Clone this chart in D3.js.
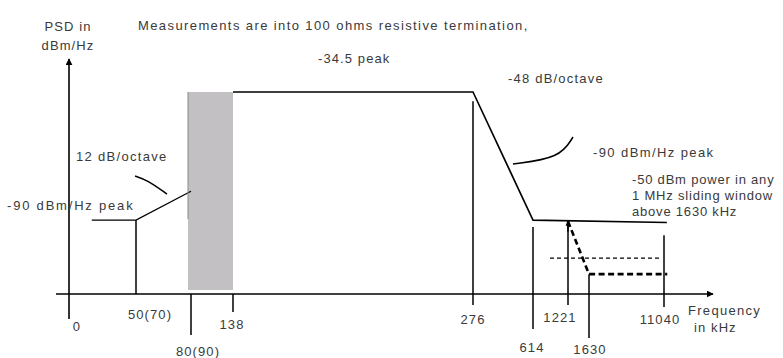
<!DOCTYPE html>
<html>
<head>
<meta charset="utf-8">
<script src="https://cdn.jsdelivr.net/npm/d3@7"></script>
<style>
  html, body { margin: 0; padding: 0; background: #fff; }
  svg { display: block; }
  text { font-family: "Liberation Sans", Arial, sans-serif; font-size: 13px; fill: #3a3a3a; letter-spacing: 1.1px; }
</style>
</head>
<body>
<svg id="chart" width="783" height="358"></svg>
<script>
// ---------------- DATA ----------------
const tickFreqs  = [0, 50, 80, 138, 276, 614, 1221, 1630, 11040];          // kHz
const tickLabels = ["0", "50(70)", "80(90)", "138", "276", "614", "1221", "1630", "11040"];
const tickTopPsd = [null, -90, -122, -122, -38.5, -93, -90.5, -113.4, -96.5]; // where each tick line starts (dBm/Hz)

const leftFreq = [17, 50, 80];            // -90 dBm/Hz peak, then 12 dB/octave rise
const leftPsd  = [-90, -90, -77.5];

const bandFreq = [80, 138];               // shaded region
const bandPsd  = -34.5;

const maskFreq = [138, 276, 614, 11400];  // -34.5 peak, -48 dB/octave, -90 dBm/Hz
const maskPsd  = [-34.5, -34.5, -90, -91];

const windowFreq = [1221, 1630, 11450];   // -50 dBm in 1 MHz window (thick dashed)
const windowPsd  = [-90.5, -113.4, -113.4];

const refFreq = [909, 10790];             // thin dashed reference
const refPsd  = [-106.5, -106.5];

const psdDomain = [-122, -34.5];

// ---------------- LAYOUT ----------------
const svg = d3.select("#chart");
const xPx = [69, 136, 191, 233, 473, 533, 568, 589, 664];
const x = d3.scaleLinear().domain(tickFreqs).range(xPx);
const y = d3.scaleLinear().domain(psdDomain).range([294, 92]);
const axisY = y(psdDomain[0]);

// tick line bottoms and label baselines (pixels)
const tickBottom = [319, 294, 335, 312, 305, 329, 305, 338, 307];
const labelBase  = [331, 319, 356, 329, 324, 352, 322, 354, 324];
const labelDx    = [8, 14, 7, -1, 0, -1, -8, 1, -4];

const line = d3.line().x(d => x(d[0])).y(d => y(d[1]));

// shaded band
svg.append("rect")
  .attr("x", x(bandFreq[0]) - 3).attr("y", y(bandPsd))
  .attr("width", x(bandFreq[1]) - x(bandFreq[0]) + 3)
  .attr("height", axisY - 4 - y(bandPsd))
  .attr("fill", "#c2c0c2");

// arrow markers
const defs = svg.append("defs");
defs.append("marker").attr("id", "arr").attr("viewBox", "0 0 10 10")
  .attr("refX", 9).attr("refY", 5).attr("markerWidth", 7).attr("markerHeight", 7)
  .attr("markerUnits", "userSpaceOnUse").attr("orient", "auto")
  .append("path").attr("d", "M0,0 L10,5 L0,10 Z").attr("fill", "#000");
defs.append("marker").attr("id", "arrS").attr("viewBox", "0 0 10 10")
  .attr("refX", 9).attr("refY", 5).attr("markerWidth", 6).attr("markerHeight", 6)
  .attr("markerUnits", "userSpaceOnUse").attr("orient", "auto")
  .append("path").attr("d", "M0,1 L10,5 L0,9 Z").attr("fill", "#000");

// x axis (horizontal) with arrow
const xEnd = 713;
svg.append("line").attr("x1", 56).attr("x2", xEnd).attr("y1", axisY).attr("y2", axisY)
  .attr("stroke", "#000").attr("stroke-width", 1.6).attr("marker-end", "url(#arr)");
// y axis with arrow
svg.append("line").attr("x1", x(0)).attr("x2", x(0)).attr("y1", tickBottom[0]).attr("y2", 59)
  .attr("stroke", "#000").attr("stroke-width", 1.6).attr("marker-end", "url(#arr)");

// tick lines
tickFreqs.forEach((f, i) => {
  if (i === 0) return;
  const top = tickTopPsd[i] === null ? axisY : y(tickTopPsd[i]);
  svg.append("line")
    .attr("x1", x(f)).attr("x2", x(f))
    .attr("y1", Math.min(top, axisY)).attr("y2", tickBottom[i])
    .attr("stroke", "#000").attr("stroke-width", 1.5);
});
// arrow at top of 1221 tick
svg.append("line").attr("x1", x(1221)).attr("x2", x(1221))
  .attr("y1", y(-95)).attr("y2", y(tickTopPsd[6]) - 1)
  .attr("stroke", "#000").attr("stroke-width", 1.5).attr("marker-end", "url(#arrS)");

// tick labels
svg.selectAll("text.tick").data(tickLabels).join("text")
  .attr("class", "tick")
  .attr("x", (d, i) => x(tickFreqs[i]) + labelDx[i])
  .attr("y", (d, i) => labelBase[i])
  .attr("text-anchor", "middle")
  .text(d => d);

// left segment
svg.append("path").attr("d", line(leftFreq.map((f, i) => [f, leftPsd[i]])))
  .attr("fill", "none").attr("stroke", "#000").attr("stroke-width", 1.3);

// main mask
svg.append("path").attr("d", line(maskFreq.map((f, i) => [f, maskPsd[i]])))
  .attr("fill", "none").attr("stroke", "#000").attr("stroke-width", 1.6);

// band left edge line
svg.append("line").attr("x1", x(bandFreq[0]) - 3).attr("x2", x(bandFreq[0]) - 3)
  .attr("y1", y(bandPsd)).attr("y2", y(leftPsd[2]) + 28)
  .attr("stroke", "#8a888a").attr("stroke-width", 1);

// window (thick dashed)
svg.append("path").attr("d", line(windowFreq.map((f, i) => [f, windowPsd[i]])))
  .attr("fill", "none").attr("stroke", "#000").attr("stroke-width", 2.6)
  .attr("stroke-dasharray", "6,3.5");

// reference thin dashed
svg.append("path").attr("d", line(refFreq.map((f, i) => [f, refPsd[i]])))
  .attr("fill", "none").attr("stroke", "#000").attr("stroke-width", 1.2)
  .attr("stroke-dasharray", "4,3");

// annotation pointers (data coordinates)
const ptr1 = [[49.3, -70.9], [56, -72.6], [66.9, -78.7]];
const ptr2 = [[501, -65.7], [1082, -63.1], [1318, -54]];
const curve = d3.line().x(d => x(d[0])).y(d => y(d[1])).curve(d3.curveBasis);
svg.append("path").attr("d", curve([ptr1[0], ptr1[0], ptr1[1], ptr1[2], ptr1[2]]))
  .attr("fill", "none").attr("stroke", "#000").attr("stroke-width", 1.5);
svg.append("path").attr("d", curve([ptr2[0], ptr2[0], ptr2[1], ptr2[2], ptr2[2]]))
  .attr("fill", "none").attr("stroke", "#000").attr("stroke-width", 1.5);

// text annotations
const notes = [
  { t: "PSD in", x: 68, y: 31, a: "middle", ls: 1.1 },
  { t: "dBm/Hz", x: 68, y: 50, a: "middle", ls: 1.1 },
  { t: "Measurements are into 100 ohms resistive termination,", x: 138, y: 30, a: "start", ls: 1.4 },
  { t: "-34.5 peak", x: 318, y: 63, a: "start", ls: 1.1 },
  { t: "-48 dB/octave", x: 508, y: 83, a: "start", ls: 1.2 },
  { t: "12 dB/octave", x: 76, y: 161, a: "start", ls: 1.3 },
  { t: "-90 dBm/Hz peak", x: 7, y: 210, a: "start", ls: 1.8 },
  { t: "-90 dBm/Hz peak", x: 593, y: 157, a: "start", ls: 1.4 },
  { t: "-50 dBm power in any", x: 632, y: 184, a: "start", ls: 0.8 },
  { t: "1 MHz sliding window", x: 632, y: 200, a: "start", ls: 0.8 },
  { t: "above 1630 kHz", x: 632, y: 216, a: "start", ls: 0.8 },
  { t: "Frequency", x: 688, y: 315, a: "start", ls: 1.3 },
  { t: "in kHz", x: 694, y: 332, a: "start", ls: 1.1 }
];
svg.selectAll("text.note").data(notes).join("text")
  .attr("class", "note")
  .attr("x", d => d.x).attr("y", d => d.y)
  .attr("text-anchor", d => d.a)
  .style("letter-spacing", d => d.ls + "px")
  .text(d => d.t);
</script>
</body>
</html>
